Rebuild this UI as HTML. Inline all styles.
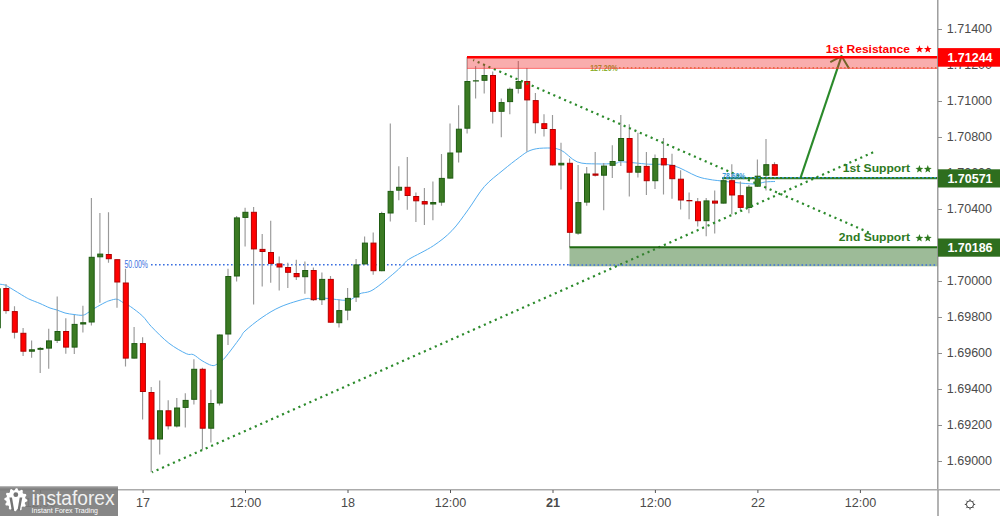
<!DOCTYPE html>
<html><head><meta charset="utf-8"><style>
html,body{margin:0;padding:0;background:#fff;width:1000px;height:516px;overflow:hidden}
svg{display:block;font-family:"Liberation Sans",sans-serif}
</style></head><body>
<svg width="1000" height="516" viewBox="0 0 1000 516">
<rect width="1000" height="516" fill="#fff"/>
<line x1="151" y1="264.8" x2="569.5" y2="264.8" stroke="#3a6fe0" stroke-width="1.6" stroke-dasharray="1.6 2.4"/>
<text x="124.5" y="268" font-size="10" fill="#3a6fe0" textLength="23.5" lengthAdjust="spacingAndGlyphs">50.00%</text>
<path fill="none" stroke="#55aef0" stroke-width="1" d="M0.00 284.20C0.90 284.37 3.58 284.52 5.40 285.20C7.22 285.88 7.73 286.42 10.90 288.30C14.07 290.18 21.22 294.63 24.40 296.50C27.58 298.37 27.40 298.33 30.00 299.50C32.60 300.67 36.67 302.08 40.00 303.50C43.33 304.92 47.17 306.92 50.00 308.00C52.83 309.08 54.50 309.17 57.00 310.00C59.50 310.83 62.17 312.25 65.00 313.00C67.83 313.75 71.00 314.13 74.00 314.50C77.00 314.87 80.50 315.62 83.00 315.20C85.50 314.78 87.00 313.20 89.00 312.00C91.00 310.80 92.33 309.58 95.00 308.00C97.67 306.42 102.50 303.75 105.00 302.50C107.50 301.25 108.00 301.05 110.00 300.50C112.00 299.95 114.83 298.87 117.00 299.20C119.17 299.53 120.75 301.27 123.00 302.50C125.25 303.73 127.22 304.32 130.50 306.60C133.78 308.88 139.22 312.87 142.70 316.20C146.18 319.53 147.03 322.10 151.40 326.60C155.77 331.10 163.08 338.68 168.90 343.20C174.72 347.72 182.23 351.80 186.30 353.70C190.37 355.60 190.68 353.43 193.30 354.60C195.92 355.77 198.95 358.90 202.00 360.70C205.05 362.50 209.12 364.82 211.60 365.40C214.08 365.98 214.72 365.43 216.90 364.20C219.08 362.97 220.85 362.37 224.70 358.00C228.55 353.63 236.62 342.50 240.00 338.00C243.38 333.50 241.33 334.42 245.00 331.00C248.67 327.58 256.00 321.57 262.00 317.50C268.00 313.43 273.83 309.70 281.00 306.60C288.17 303.50 299.83 300.17 305.00 298.90C310.17 297.63 308.67 299.12 312.00 299.00C315.33 298.88 319.00 298.00 325.00 298.20C331.00 298.40 342.17 300.95 348.00 300.20C353.83 299.45 355.83 295.43 360.00 293.70C364.17 291.97 367.17 293.35 373.00 289.80C378.83 286.25 389.67 276.92 395.00 272.40C400.33 267.88 402.50 265.00 405.00 262.70C407.50 260.40 405.28 261.42 410.00 258.60C414.72 255.78 426.32 250.45 433.30 245.80C440.28 241.15 446.10 236.70 451.90 230.70C457.70 224.70 462.68 217.17 468.10 209.80C473.52 202.43 478.58 193.10 484.40 186.50C490.22 179.90 497.18 175.05 503.00 170.20C508.82 165.35 514.80 160.68 519.30 157.40C523.80 154.12 526.00 152.05 530.00 150.50C534.00 148.95 538.25 148.22 543.30 148.10C548.35 147.98 554.65 147.50 560.30 149.80C565.95 152.10 571.15 159.55 577.20 161.90C583.25 164.25 590.30 163.65 596.60 163.90C602.90 164.15 610.80 163.75 615.00 163.40C619.20 163.05 616.23 161.67 621.80 161.80C627.37 161.93 639.92 163.60 648.40 164.20C656.88 164.80 664.62 163.38 672.70 165.40C680.78 167.42 690.68 173.95 696.90 176.30C703.12 178.65 706.15 178.75 710.00 179.50C713.85 180.25 715.83 180.30 720.00 180.80C724.17 181.30 729.17 181.97 735.00 182.50C740.83 183.03 750.00 184.08 755.00 184.00C760.00 183.92 761.67 182.42 765.00 182.00C768.33 181.58 773.33 181.58 775.00 181.50"/>
<path d="M-2.5 280.0V335.0M6.0 284.0V313.7M14.5 306.2V338.5M23.1 328.0V356.0M31.6 340.4V357.8M40.2 347.0V373.0M48.7 328.7V368.7M57.2 296.5V343.0M65.8 318.3V353.7M74.3 315.0V354.0M82.9 305.8V332.4M91.4 198.0V325.5M99.9 213.0V302.8M108.5 212.3V262.7M117.0 259.2V307.7M125.5 268.7V366.4M134.1 327.1V358.6M142.6 337.3V419.6M151.2 387.0V472.3M159.7 380.4V454.5M168.2 400.3V429.6M176.8 398.0V427.4M185.3 393.2V427.5M193.9 359.3V404.6M202.4 367.8V449.7M210.9 389.8V442.6M219.5 334.5V405.6M228.0 268.7V345.0M236.6 216.0V281.6M245.1 207.7V246.4M253.6 207.0V304.6M262.2 234.0V286.4M270.7 220.8V282.8M279.2 256.6V290.5M287.8 262.7V288.0M296.3 259.8V280.1M304.9 261.5V293.7M313.4 267.5V301.0M321.9 272.4V305.0M330.5 276.0V322.7M339.0 299.6V327.5M347.6 288.0V320.3M356.1 259.0V302.0M364.6 236.5V264.4M373.2 232.4V274.8M381.7 211.8V271.2M390.3 123.4V221.5M398.8 166.3V200.3M407.3 157.0V209.8M415.9 192.4V222.0M424.4 188.0V225.1M432.9 181.5V220.3M441.5 154.0V205.7M450.0 123.4V178.6M458.6 105.2V162.6M467.1 57.0V133.6M475.6 66.0V98.4M484.2 64.0V93.6M492.7 71.5V123.4M501.3 98.4V137.2M509.8 87.5V114.2M518.3 61.1V93.6M526.9 68.0V151.7M535.4 93.1V133.6M544.0 114.2V136.5M552.5 114.9V165.4M561.0 142.8V189.5M569.6 158.5V246.9M578.1 165.0V234.8M586.7 167.0V205.7M595.2 152.0V176.6M603.7 163.0V210.2M612.3 145.2V178.0M620.8 115.0V165.9M629.3 124.2V196.4M637.9 132.7V177.5M646.4 152.1V195.0M655.0 154.5V189.1M663.5 138.0V194.5M672.0 153.8V198.8M680.6 170.3V209.5M689.1 192.5V219.2M697.7 198.0V226.6M706.2 198.0V236.3M714.7 190.6V233.4M723.3 177.0V203.6M731.8 164.2V214.5M740.4 181.4V210.8M748.9 185.0V213.3M757.4 159.5V186.7M766.0 138.9V190.4M774.5 162.2V175.7" stroke="#999999" stroke-width="1.15" fill="none"/>
<rect x="-4.7" y="288.8" width="5" height="39.0" fill="#3b7a23" stroke="#1f5c12" stroke-width="1"/>
<rect x="3.8" y="288.5" width="5" height="22.1" fill="#ff0000" stroke="#b00000" stroke-width="1"/>
<rect x="12.3" y="311.6" width="5" height="20.6" fill="#ff0000" stroke="#b00000" stroke-width="1"/>
<rect x="20.9" y="333.3" width="5" height="17.9" fill="#ff0000" stroke="#b00000" stroke-width="1"/>
<rect x="29.4" y="349.8" width="5" height="1.4" fill="#3b7a23" stroke="#1f5c12" stroke-width="1"/>
<rect x="38.0" y="348.4" width="5" height="0.9" fill="#3b7a23" stroke="#1f5c12" stroke-width="1"/>
<rect x="46.5" y="340.9" width="5" height="7.2" fill="#3b7a23" stroke="#1f5c12" stroke-width="1"/>
<rect x="55.0" y="331.5" width="5" height="8.8" fill="#3b7a23" stroke="#1f5c12" stroke-width="1"/>
<rect x="63.6" y="331.5" width="5" height="15.6" fill="#ff0000" stroke="#b00000" stroke-width="1"/>
<rect x="72.1" y="324.4" width="5" height="22.7" fill="#3b7a23" stroke="#1f5c12" stroke-width="1"/>
<rect x="80.7" y="322.7" width="5" height="1.3" fill="#3b7a23" stroke="#1f5c12" stroke-width="1"/>
<rect x="89.2" y="257.3" width="5" height="64.7" fill="#3b7a23" stroke="#1f5c12" stroke-width="1"/>
<rect x="97.7" y="254.1" width="5" height="2.7" fill="#3b7a23" stroke="#1f5c12" stroke-width="1"/>
<rect x="106.3" y="254.5" width="5" height="4.2" fill="#ff0000" stroke="#b00000" stroke-width="1"/>
<rect x="114.8" y="259.7" width="5" height="22.3" fill="#ff0000" stroke="#b00000" stroke-width="1"/>
<rect x="123.3" y="283.0" width="5" height="75.1" fill="#ff0000" stroke="#b00000" stroke-width="1"/>
<rect x="131.9" y="343.6" width="5" height="14.5" fill="#3b7a23" stroke="#1f5c12" stroke-width="1"/>
<rect x="140.4" y="343.6" width="5" height="47.9" fill="#ff0000" stroke="#b00000" stroke-width="1"/>
<rect x="149.0" y="392.5" width="5" height="46.5" fill="#ff0000" stroke="#b00000" stroke-width="1"/>
<rect x="157.5" y="410.8" width="5" height="28.2" fill="#3b7a23" stroke="#1f5c12" stroke-width="1"/>
<rect x="166.0" y="410.8" width="5" height="15.0" fill="#ff0000" stroke="#b00000" stroke-width="1"/>
<rect x="174.6" y="408.0" width="5" height="18.0" fill="#3b7a23" stroke="#1f5c12" stroke-width="1"/>
<rect x="183.1" y="400.4" width="5" height="7.0" fill="#3b7a23" stroke="#1f5c12" stroke-width="1"/>
<rect x="191.7" y="369.3" width="5" height="30.0" fill="#3b7a23" stroke="#1f5c12" stroke-width="1"/>
<rect x="200.2" y="369.3" width="5" height="58.9" fill="#ff0000" stroke="#b00000" stroke-width="1"/>
<rect x="208.7" y="403.5" width="5" height="24.7" fill="#3b7a23" stroke="#1f5c12" stroke-width="1"/>
<rect x="217.3" y="335.0" width="5" height="68.0" fill="#3b7a23" stroke="#1f5c12" stroke-width="1"/>
<rect x="225.8" y="276.5" width="5" height="57.5" fill="#3b7a23" stroke="#1f5c12" stroke-width="1"/>
<rect x="234.4" y="217.9" width="5" height="58.1" fill="#3b7a23" stroke="#1f5c12" stroke-width="1"/>
<rect x="242.9" y="212.3" width="5" height="5.1" fill="#3b7a23" stroke="#1f5c12" stroke-width="1"/>
<rect x="251.4" y="212.3" width="5" height="36.6" fill="#ff0000" stroke="#b00000" stroke-width="1"/>
<rect x="260.0" y="249.4" width="5" height="2.1" fill="#ff0000" stroke="#b00000" stroke-width="1"/>
<rect x="268.5" y="252.5" width="5" height="10.9" fill="#ff0000" stroke="#b00000" stroke-width="1"/>
<rect x="277.0" y="263.9" width="5" height="3.1" fill="#ff0000" stroke="#b00000" stroke-width="1"/>
<rect x="285.6" y="267.5" width="5" height="4.8" fill="#ff0000" stroke="#b00000" stroke-width="1"/>
<rect x="294.1" y="273.5" width="5" height="3.2" fill="#ff0000" stroke="#b00000" stroke-width="1"/>
<rect x="302.7" y="270.5" width="5" height="6.2" fill="#3b7a23" stroke="#1f5c12" stroke-width="1"/>
<rect x="311.2" y="270.5" width="5" height="29.2" fill="#ff0000" stroke="#b00000" stroke-width="1"/>
<rect x="319.7" y="279.4" width="5" height="20.3" fill="#3b7a23" stroke="#1f5c12" stroke-width="1"/>
<rect x="328.3" y="279.4" width="5" height="42.8" fill="#ff0000" stroke="#b00000" stroke-width="1"/>
<rect x="336.8" y="310.6" width="5" height="12.1" fill="#3b7a23" stroke="#1f5c12" stroke-width="1"/>
<rect x="345.4" y="298.4" width="5" height="11.7" fill="#3b7a23" stroke="#1f5c12" stroke-width="1"/>
<rect x="353.9" y="264.9" width="5" height="32.1" fill="#3b7a23" stroke="#1f5c12" stroke-width="1"/>
<rect x="362.4" y="243.1" width="5" height="20.8" fill="#3b7a23" stroke="#1f5c12" stroke-width="1"/>
<rect x="371.0" y="243.1" width="5" height="27.6" fill="#ff0000" stroke="#b00000" stroke-width="1"/>
<rect x="379.5" y="213.5" width="5" height="57.2" fill="#3b7a23" stroke="#1f5c12" stroke-width="1"/>
<rect x="388.1" y="191.4" width="5" height="21.6" fill="#3b7a23" stroke="#1f5c12" stroke-width="1"/>
<rect x="396.6" y="187.3" width="5" height="2.9" fill="#3b7a23" stroke="#1f5c12" stroke-width="1"/>
<rect x="405.1" y="187.3" width="5" height="8.2" fill="#ff0000" stroke="#b00000" stroke-width="1"/>
<rect x="413.7" y="196.5" width="5" height="4.3" fill="#ff0000" stroke="#b00000" stroke-width="1"/>
<rect x="422.2" y="201.6" width="5" height="2.4" fill="#ff0000" stroke="#b00000" stroke-width="1"/>
<rect x="430.7" y="202.5" width="5" height="1.5" fill="#3b7a23" stroke="#1f5c12" stroke-width="1"/>
<rect x="439.3" y="178.4" width="5" height="23.7" fill="#3b7a23" stroke="#1f5c12" stroke-width="1"/>
<rect x="447.8" y="153.0" width="5" height="25.1" fill="#3b7a23" stroke="#1f5c12" stroke-width="1"/>
<rect x="456.4" y="129.2" width="5" height="22.8" fill="#3b7a23" stroke="#1f5c12" stroke-width="1"/>
<rect x="464.9" y="81.5" width="5" height="46.7" fill="#3b7a23" stroke="#1f5c12" stroke-width="1"/>
<rect x="473.4" y="80.8" width="5" height="0.2" fill="#3b7a23" stroke="#1f5c12" stroke-width="1"/>
<rect x="482.0" y="75.5" width="5" height="4.8" fill="#3b7a23" stroke="#1f5c12" stroke-width="1"/>
<rect x="490.5" y="75.5" width="5" height="35.8" fill="#ff0000" stroke="#b00000" stroke-width="1"/>
<rect x="499.1" y="102.6" width="5" height="8.7" fill="#3b7a23" stroke="#1f5c12" stroke-width="1"/>
<rect x="507.6" y="89.3" width="5" height="12.3" fill="#3b7a23" stroke="#1f5c12" stroke-width="1"/>
<rect x="516.1" y="81.5" width="5" height="6.8" fill="#3b7a23" stroke="#1f5c12" stroke-width="1"/>
<rect x="524.7" y="81.5" width="5" height="18.4" fill="#ff0000" stroke="#b00000" stroke-width="1"/>
<rect x="533.2" y="100.6" width="5" height="22.1" fill="#ff0000" stroke="#b00000" stroke-width="1"/>
<rect x="541.8" y="123.7" width="5" height="4.8" fill="#ff0000" stroke="#b00000" stroke-width="1"/>
<rect x="550.3" y="129.5" width="5" height="35.4" fill="#ff0000" stroke="#b00000" stroke-width="1"/>
<rect x="558.8" y="163.3" width="5" height="1.6" fill="#3b7a23" stroke="#1f5c12" stroke-width="1"/>
<rect x="567.4" y="163.3" width="5" height="69.0" fill="#ff0000" stroke="#b00000" stroke-width="1"/>
<rect x="575.9" y="202.6" width="5" height="30.5" fill="#3b7a23" stroke="#1f5c12" stroke-width="1"/>
<rect x="584.5" y="174.0" width="5" height="28.1" fill="#3b7a23" stroke="#1f5c12" stroke-width="1"/>
<rect x="593.0" y="174.0" width="5" height="1.2" fill="#ff0000" stroke="#b00000" stroke-width="1"/>
<rect x="601.5" y="166.1" width="5" height="9.1" fill="#3b7a23" stroke="#1f5c12" stroke-width="1"/>
<rect x="610.1" y="161.5" width="5" height="3.8" fill="#3b7a23" stroke="#1f5c12" stroke-width="1"/>
<rect x="618.6" y="138.5" width="5" height="22.0" fill="#3b7a23" stroke="#1f5c12" stroke-width="1"/>
<rect x="627.1" y="138.5" width="5" height="33.7" fill="#ff0000" stroke="#b00000" stroke-width="1"/>
<rect x="635.7" y="166.4" width="5" height="5.8" fill="#3b7a23" stroke="#1f5c12" stroke-width="1"/>
<rect x="644.2" y="166.4" width="5" height="14.3" fill="#ff0000" stroke="#b00000" stroke-width="1"/>
<rect x="652.8" y="158.6" width="5" height="22.1" fill="#3b7a23" stroke="#1f5c12" stroke-width="1"/>
<rect x="661.3" y="158.6" width="5" height="6.3" fill="#ff0000" stroke="#b00000" stroke-width="1"/>
<rect x="669.8" y="165.4" width="5" height="13.3" fill="#ff0000" stroke="#b00000" stroke-width="1"/>
<rect x="678.4" y="179.2" width="5" height="20.8" fill="#ff0000" stroke="#b00000" stroke-width="1"/>
<rect x="686.9" y="200.5" width="5" height="0.3" fill="#ff0000" stroke="#b00000" stroke-width="1"/>
<rect x="695.5" y="201.8" width="5" height="18.9" fill="#ff0000" stroke="#b00000" stroke-width="1"/>
<rect x="704.0" y="200.9" width="5" height="19.8" fill="#3b7a23" stroke="#1f5c12" stroke-width="1"/>
<rect x="712.5" y="201.1" width="5" height="2.0" fill="#ff0000" stroke="#b00000" stroke-width="1"/>
<rect x="721.1" y="180.7" width="5" height="22.4" fill="#3b7a23" stroke="#1f5c12" stroke-width="1"/>
<rect x="729.6" y="180.7" width="5" height="14.3" fill="#ff0000" stroke="#b00000" stroke-width="1"/>
<rect x="738.2" y="195.7" width="5" height="11.7" fill="#ff0000" stroke="#b00000" stroke-width="1"/>
<rect x="746.7" y="187.2" width="5" height="20.2" fill="#3b7a23" stroke="#1f5c12" stroke-width="1"/>
<rect x="755.2" y="176.2" width="5" height="10.0" fill="#3b7a23" stroke="#1f5c12" stroke-width="1"/>
<rect x="763.8" y="164.7" width="5" height="10.5" fill="#3b7a23" stroke="#1f5c12" stroke-width="1"/>
<rect x="772.3" y="164.7" width="5" height="10.5" fill="#ff0000" stroke="#b00000" stroke-width="1"/>
<line x1="152.1" y1="472.3" x2="876.3" y2="150.9" stroke="#2b8a2b" stroke-width="2.2" stroke-dasharray="2.1 3.868" stroke-dashoffset="1.05"/>
<line x1="473.2" y1="60" x2="871.4" y2="233.6" stroke="#2b8a2b" stroke-width="2.2" stroke-dasharray="2.1 3.798" stroke-dashoffset="1.05"/>
<path d="M800.5 178 L841.6 56" stroke="#2b8a2b" stroke-width="2.2" fill="none"/>
<path d="M830.3 62.2 L841.6 56 L849 68.5" stroke="#2b8a2b" stroke-width="2" fill="none" stroke-linejoin="miter"/>
<line x1="619" y1="67.8" x2="938" y2="67.8" stroke="#d08020" stroke-width="1.3" stroke-dasharray="1.5 2.45"/>
<text x="590.2" y="71" font-size="8.5" font-weight="bold" fill="#8db030" textLength="27.6" lengthAdjust="spacingAndGlyphs">127.20%</text>
<rect x="467" y="57.3" width="471" height="11.2" fill="rgba(240,40,40,0.38)"/>
<line x1="467" y1="68.4" x2="938" y2="68.4" stroke="rgba(255,40,40,0.7)" stroke-width="0.8"/>
<line x1="467" y1="57.3" x2="938" y2="57.3" stroke="#ff0000" stroke-width="2.4"/>
<rect x="569.5" y="247.3" width="368.5" height="19" fill="rgba(60,120,50,0.5)"/>
<line x1="569.5" y1="247.3" x2="938" y2="247.3" stroke="#1f6a12" stroke-width="2"/>
<line x1="569.5" y1="265" x2="938" y2="265" stroke="#3a6fe0" stroke-width="1.6" stroke-dasharray="1.6 2.4"/>
<line x1="722" y1="178.2" x2="938" y2="178.2" stroke="#2e7a1e" stroke-width="2.2"/>
<line x1="722" y1="177.6" x2="938" y2="177.6" stroke="#3aa0e8" stroke-width="1.2" stroke-dasharray="2 2" opacity="0.8"/>
<text x="722.2" y="179.4" font-size="8.8" font-weight="bold" fill="#2a8fd6" opacity="0.9" textLength="23.2" lengthAdjust="spacingAndGlyphs">78.60%</text>
<text x="825.8" y="52.5" font-weight="bold" font-size="11" fill="#ff0000" textLength="84.2" lengthAdjust="spacingAndGlyphs">1st Resistance</text>
<polygon points="919.40,45.20 920.41,47.91 923.30,48.03 921.04,49.83 921.81,52.62 919.40,51.02 916.99,52.62 917.76,49.83 915.50,48.03 918.39,47.91" fill="#ff0000"/>
<polygon points="927.80,45.20 928.81,47.91 931.70,48.03 929.44,49.83 930.21,52.62 927.80,51.02 925.39,52.62 926.16,49.83 923.90,48.03 926.79,47.91" fill="#ff0000"/>
<text x="842.7" y="172.4" font-weight="bold" font-size="11" fill="#2e7a1e" textLength="67.3" lengthAdjust="spacingAndGlyphs">1st Support</text>
<polygon points="919.40,165.10 920.41,167.81 923.30,167.93 921.04,169.73 921.81,172.52 919.40,170.92 916.99,172.52 917.76,169.73 915.50,167.93 918.39,167.81" fill="#2e7a1e"/>
<polygon points="927.80,165.10 928.81,167.81 931.70,167.93 929.44,169.73 930.21,172.52 927.80,170.92 925.39,172.52 926.16,169.73 923.90,167.93 926.79,167.81" fill="#2e7a1e"/>
<text x="838.8" y="241.4" font-weight="bold" font-size="11" fill="#2e7a1e" textLength="71.2" lengthAdjust="spacingAndGlyphs">2nd Support</text>
<polygon points="919.40,234.10 920.41,236.81 923.30,236.93 921.04,238.73 921.81,241.52 919.40,239.92 916.99,241.52 917.76,238.73 915.50,236.93 918.39,236.81" fill="#2e7a1e"/>
<polygon points="927.80,234.10 928.81,236.81 931.70,236.93 929.44,238.73 930.21,241.52 927.80,239.92 925.39,241.52 926.16,238.73 923.90,236.93 926.79,236.81" fill="#2e7a1e"/>
<rect x="938" y="0" width="62" height="516" fill="#ffffff"/>
<line x1="937.8" y1="0" x2="937.8" y2="516" stroke="#8f8f8f" stroke-width="1.3"/>
<line x1="938" y1="29.5" x2="942" y2="29.5" stroke="#8f8f8f" stroke-width="1"/>
<text x="946.8" y="33.1" font-size="12.5" fill="#4a4a4a">1.71400</text>
<line x1="938" y1="65.5" x2="942" y2="65.5" stroke="#8f8f8f" stroke-width="1"/>
<text x="946.8" y="69.1" font-size="12.5" fill="#4a4a4a">1.71200</text>
<line x1="938" y1="101.5" x2="942" y2="101.5" stroke="#8f8f8f" stroke-width="1"/>
<text x="946.8" y="105.1" font-size="12.5" fill="#4a4a4a">1.71000</text>
<line x1="938" y1="137.5" x2="942" y2="137.5" stroke="#8f8f8f" stroke-width="1"/>
<text x="946.8" y="141.1" font-size="12.5" fill="#4a4a4a">1.70800</text>
<line x1="938" y1="173.5" x2="942" y2="173.5" stroke="#8f8f8f" stroke-width="1"/>
<text x="946.8" y="177.1" font-size="12.5" fill="#4a4a4a">1.70600</text>
<line x1="938" y1="209.5" x2="942" y2="209.5" stroke="#8f8f8f" stroke-width="1"/>
<text x="946.8" y="213.1" font-size="12.5" fill="#4a4a4a">1.70400</text>
<line x1="938" y1="245.5" x2="942" y2="245.5" stroke="#8f8f8f" stroke-width="1"/>
<text x="946.8" y="249.1" font-size="12.5" fill="#4a4a4a">1.70200</text>
<line x1="938" y1="281.5" x2="942" y2="281.5" stroke="#8f8f8f" stroke-width="1"/>
<text x="946.8" y="285.1" font-size="12.5" fill="#4a4a4a">1.70000</text>
<line x1="938" y1="317.5" x2="942" y2="317.5" stroke="#8f8f8f" stroke-width="1"/>
<text x="946.8" y="321.1" font-size="12.5" fill="#4a4a4a">1.69800</text>
<line x1="938" y1="353.5" x2="942" y2="353.5" stroke="#8f8f8f" stroke-width="1"/>
<text x="946.8" y="357.1" font-size="12.5" fill="#4a4a4a">1.69600</text>
<line x1="938" y1="389.5" x2="942" y2="389.5" stroke="#8f8f8f" stroke-width="1"/>
<text x="946.8" y="393.1" font-size="12.5" fill="#4a4a4a">1.69400</text>
<line x1="938" y1="425.5" x2="942" y2="425.5" stroke="#8f8f8f" stroke-width="1"/>
<text x="946.8" y="429.1" font-size="12.5" fill="#4a4a4a">1.69200</text>
<line x1="938" y1="461.5" x2="942" y2="461.5" stroke="#8f8f8f" stroke-width="1"/>
<text x="946.8" y="465.1" font-size="12.5" fill="#4a4a4a">1.69000</text>
<rect x="938" y="48.1" width="62" height="18.6" fill="#ff0000"/>
<text x="947.4" y="61.8" font-size="12.5" font-weight="bold" fill="#ffffff">1.71244</text>
<rect x="938" y="169.3" width="62" height="18.2" fill="#2e6e1e"/>
<text x="947.4" y="182.8" font-size="12.5" font-weight="bold" fill="#ffffff">1.70571</text>
<rect x="938" y="238.5" width="62" height="18.2" fill="#2e6e1e"/>
<text x="947.4" y="252.0" font-size="12.5" font-weight="bold" fill="#ffffff">1.70186</text>
<rect x="0" y="490" width="1000" height="26" fill="#ffffff"/>
<line x1="0" y1="489.8" x2="1000" y2="489.8" stroke="#ababab" stroke-width="1.5"/>
<line x1="938" y1="490" x2="938" y2="516" stroke="#9a9a9a" stroke-width="1.5"/>
<line x1="40.6" y1="490" x2="40.6" y2="493" stroke="#555" stroke-width="1"/>
<text x="40.6" y="507.1" font-size="12.6" fill="#4a4a4a" text-anchor="middle">12:00</text>
<line x1="143.1" y1="490" x2="143.1" y2="493" stroke="#555" stroke-width="1"/>
<text x="143.1" y="507.1" font-size="12.6" fill="#4a4a4a" text-anchor="middle">17</text>
<line x1="245.5" y1="490" x2="245.5" y2="493" stroke="#555" stroke-width="1"/>
<text x="245.5" y="507.1" font-size="12.6" fill="#4a4a4a" text-anchor="middle">12:00</text>
<line x1="348.0" y1="490" x2="348.0" y2="493" stroke="#555" stroke-width="1"/>
<text x="348.0" y="507.1" font-size="12.6" fill="#4a4a4a" text-anchor="middle">18</text>
<line x1="450.5" y1="490" x2="450.5" y2="493" stroke="#555" stroke-width="1"/>
<text x="450.5" y="507.1" font-size="12.6" fill="#4a4a4a" text-anchor="middle">12:00</text>
<line x1="553.0" y1="490" x2="553.0" y2="493" stroke="#555" stroke-width="1"/>
<text x="553.0" y="507.1" font-size="12.6" fill="#4a4a4a" text-anchor="middle" font-weight="bold">21</text>
<line x1="655.4" y1="490" x2="655.4" y2="493" stroke="#555" stroke-width="1"/>
<text x="655.4" y="507.1" font-size="12.6" fill="#4a4a4a" text-anchor="middle">12:00</text>
<line x1="757.9" y1="490" x2="757.9" y2="493" stroke="#555" stroke-width="1"/>
<text x="757.9" y="507.1" font-size="12.6" fill="#4a4a4a" text-anchor="middle">22</text>
<line x1="860.4" y1="490" x2="860.4" y2="493" stroke="#555" stroke-width="1"/>
<text x="860.4" y="507.1" font-size="12.6" fill="#4a4a4a" text-anchor="middle">12:00</text>
<g transform="translate(970,504.4)" fill="none" stroke="#333" stroke-width="0.95"><circle r="3.6"/><path d="M0 -5.2V-3.8M0 3.8V5.2M-5.2 0H-3.8M3.8 0H5.2M-3.7 -3.7L-2.7 -2.7M2.7 2.7L3.7 3.7M-3.7 3.7L-2.7 2.7M2.7 -2.7L3.7 -3.7"/></g>
<rect x="0" y="486.4" width="118" height="29.6" fill="rgba(122,122,122,0.9)"/>
<line x1="0" y1="487" x2="118" y2="487" stroke="rgba(180,180,180,0.6)" stroke-width="1"/>
<polygon points="15.85,488.20 17.35,488.30 18.33,490.43 19.52,490.83 21.60,489.74 22.85,490.58 22.64,492.91 23.47,493.86 25.81,493.95 26.47,495.30 25.12,497.22 25.37,498.45 27.35,499.70 27.25,501.20 25.12,502.18 24.72,503.37 25.81,505.45 24.97,506.70 22.64,506.49 21.69,507.32 21.60,509.66 20.25,510.32 18.33,508.97 17.10,509.22 15.85,511.20 14.35,511.10 13.37,508.97 12.18,508.57 10.10,509.66 8.85,508.82 9.06,506.49 8.23,505.54 5.89,505.45 5.23,504.10 6.58,502.18 6.33,500.95 4.35,499.70 4.45,498.20 6.58,497.22 6.98,496.03 5.89,493.95 6.73,492.70 9.06,492.91 10.01,492.08 10.10,489.74 11.45,489.08 13.37,490.43 14.60,490.18" fill="#ffffff"/>
<circle cx="15.8" cy="494.7" r="2.4" fill="#747474"/>
<polygon points="9.4,497.6 12.0,497.6 14.2,510.4 11.8,510.4" fill="#747474"/>
<polygon points="22.3,497.6 19.7,497.6 17.5,510.4 19.9,510.4" fill="#747474"/>
<text x="31.5" y="505" font-size="20" fill="#f2f2f2" textLength="83" lengthAdjust="spacingAndGlyphs">instaforex</text>
<text x="31.6" y="512.8" font-size="7.2" fill="#ffffff" textLength="66.4" lengthAdjust="spacingAndGlyphs">Instant Forex Trading</text>
</svg></body></html>
